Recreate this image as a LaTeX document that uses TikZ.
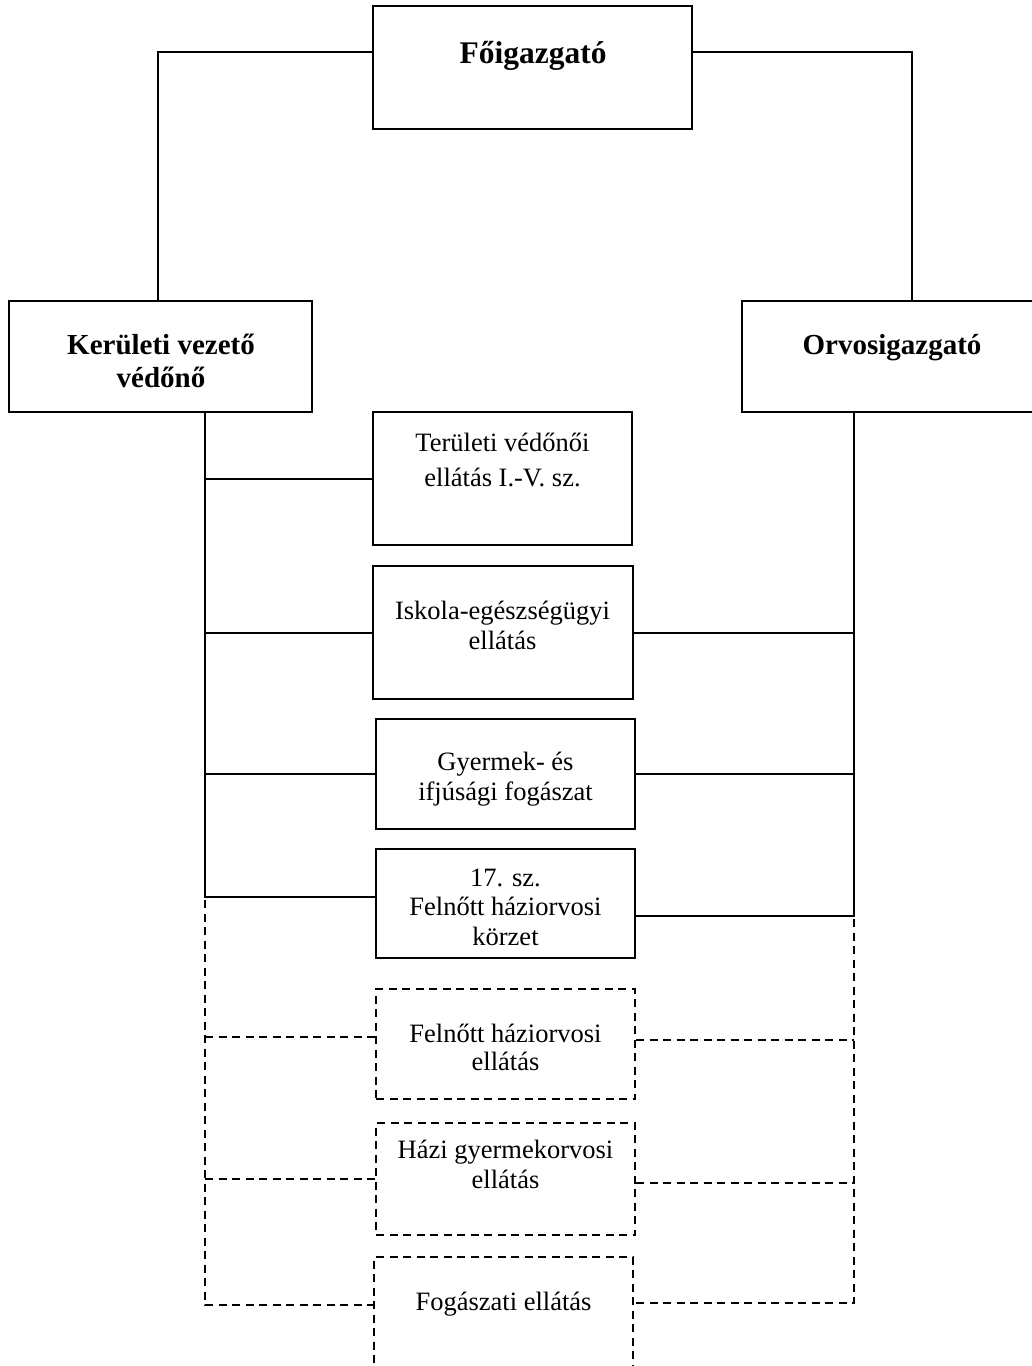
\documentclass[tikz,border=0pt]{standalone}
\usepackage{fontspec}
\setmainfont{Liberation Serif}
\usepackage{tikz}
\usetikzlibrary{positioning}

\begin{document}
\begin{tikzpicture}[
    x=1pt, y=-1pt,
    block/.style={rectangle, draw, line width=2pt, inner sep=0pt},
    dash_block/.style={block, dash pattern=on 8pt off 5.5pt},
    txt/.style={anchor=base, align=center, inner sep=0pt, font=\fontsize{26.5}{29.5}\selectfont},
    bold_txt/.style={txt, font=\fontsize{29}{33}\selectfont\bfseries},
    link/.style={line width=2pt},
    dash_link/.style={link, dash pattern=on 8pt off 5.5pt}
]
\useasboundingbox (0,0) rectangle (1032,1366);
\clip (0,0) rectangle (1032,1366);

% boxes
\node[block, minimum width=319pt, minimum height=123pt] (chief) at (532.5,67.5) {};
\node[block, minimum width=303pt, minimum height=111pt] (nurse) at (160.5,356.5) {};
\node[block, minimum width=303pt, minimum height=111pt] (doctor) at (893.5,356.5) {};
\node[block, minimum width=259pt, minimum height=133pt] (area) at (502.5,478.5) {};
\node[block, minimum width=260pt, minimum height=133pt] (school) at (503,632.5) {};
\node[block, minimum width=259pt, minimum height=110pt] (youth) at (505.5,774) {};
\node[block, minimum width=259pt, minimum height=109pt] (gp17) at (505.5,903.5) {};
\node[dash_block, minimum width=259pt, minimum height=110pt] (gp) at (505.5,1044) {};
\node[dash_block, minimum width=259pt, minimum height=112pt] (paed) at (505.5,1179) {};
\node[dash_block, minimum width=259pt, minimum height=140pt] (dental) at (503.5,1327) {};

% texts (base = last line)
\node[bold_txt, font=\fontsize{31.5}{35}\selectfont\bfseries] (chief_t) at (533,63) {Főigazgató};
\node[bold_txt] (nurse_t) at (161,387) {Kerületi vezető\\védőnő};
\node[bold_txt] (doctor_t) at (892,354) {Orvosigazgató};
\node[txt] (area_t) at (502.5,486) {Területi védőnői\\[5.5pt]ellátás I.-V. sz.};
\node[txt] (school_t) at (502.5,649) {Iskola-egészségügyi\\ellátás};
\node[txt] (youth_t) at (505.5,800) {Gyermek- és\\ifjúsági fogászat};
\node[txt] (gp17_t) at (505.5,945) {17. sz.\\Felnőtt háziorvosi\\körzet};
\node[txt, font=\fontsize{26.5}{28}\selectfont] (gp_t) at (505.5,1070) {Felnőtt háziorvosi\\ellátás};
\node[txt] (paed_t) at (505.5,1188) {Házi gyermekorvosi\\ellátás};
\node[txt] (dental_t) at (503.5,1310) {Fogászati ellátás};

% spines and branch points
\coordinate (lspine) at ([xshift=44.5pt]nurse.south);
\coordinate (rspine) at ([xshift=-39.5pt]doctor.south);
\coordinate (l17) at ([yshift=6.5pt]gp17.west);
\coordinate (r17) at ([yshift=-12.5pt]gp17.east);
\coordinate (lgp) at ([yshift=7pt]gp.west);
\coordinate (rgp) at ([yshift=4pt]gp.east);
\coordinate (rpaed) at ([yshift=-4pt]paed.east);
\coordinate (ldent) at ([yshift=22pt]dental.west);
\coordinate (rdent) at ([yshift=24pt]dental.east);
\path (lspine |- l17) coordinate (ljoin);
\path (rspine |- r17) coordinate (rjoin);

% top level
\draw[link] ([yshift=15.5pt]chief.west) -| ([xshift=-2.5pt]nurse.north);
\draw[link] ([yshift=15.5pt]chief.east) -| ([xshift=18.5pt]doctor.north);

% left side
\draw[link] (lspine) |- (l17);
\draw[link] (lspine |- area.west) -- (area.west);
\draw[link] (lspine |- school.west) -- (school.west);
\draw[link] (lspine |- youth.west) -- (youth.west);
\draw[dash_link] ([yshift=-3pt]ljoin) |- (ldent);
\draw[dash_link] (lspine |- lgp) -- (lgp);
\draw[dash_link] (lspine |- paed.west) -- (paed.west);

% right side
\draw[link] (rspine) |- (r17);
\draw[link] (school.east) -- (rspine |- school.east);
\draw[link] (youth.east) -- (rspine |- youth.east);
\draw[dash_link] ([yshift=-3pt]rjoin) |- (rdent);
\draw[dash_link] (rgp) -- (rspine |- rgp);
\draw[dash_link] (rpaed) -- (rspine |- rpaed);
\end{tikzpicture}
\end{document}
